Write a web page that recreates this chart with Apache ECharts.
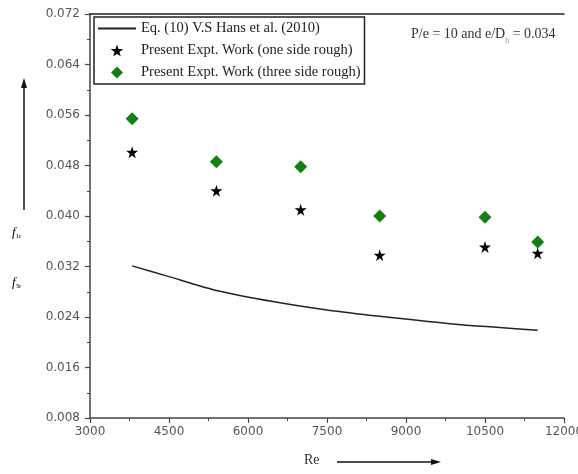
<!DOCTYPE html>
<html>
<head>
<meta charset="utf-8">
<script src="https://cdn.jsdelivr.net/npm/echarts@6/dist/echarts.min.js"></script>
<style>
html, body { margin: 0; padding: 0; background: #fff; }
#chart { width: 578px; height: 474px; }
</style>
</head>
<body>
<div id="chart"></div>
<script>
// Re values of the measured points
var reExpt = [3800, 5400, 7000, 8500, 10500, 11500];
// friction factor, one side rough
var fOneSide = [0.0501, 0.0440, 0.0410, 0.0338, 0.0351, 0.0341];
// friction factor, three side rough
var fThreeSide = [0.0554, 0.0486, 0.0478, 0.0400, 0.0398, 0.0359];
// correlation curve Eq. (10)
var reEq = [3800, 4500, 5400, 6500, 7500, 8500, 10000, 11500];
var fEq = [0.0321, 0.0304, 0.0282, 0.0264, 0.0251, 0.0241, 0.0228, 0.0219];

var xTicks = [3000, 12000, 1500];
var yTicks = [0.008, 0.072, 0.008];

function pairs(xs, ys) {
	var out = [];
	for (var i = 0; i < xs.length; i++) out.push([xs[i], ys[i]]);
	return out;
}

var starPath = 'path://M50,0 L61,35 L98,35 L68,57 L79,91 L50,70 L21,91 L32,57 L2,35 L39,35 Z';
var diamondPath = 'path://M50,0 L100,50 L50,100 L0,50 Z';
var serif = '"Liberation Serif", "Times New Roman", serif';
var sans = '"DejaVu Sans", sans-serif';
var axisCol = '#444';
var green = '#157f15';

var myChart = echarts.init(document.getElementById('chart'));
myChart.setOption({
	animation: false,
	backgroundColor: '#fff',
	grid: { left: 90, right: 14, top: 14, bottom: 56, outerBoundsMode: 'none' },
	title: {
		left: 406, top: 19,
		text: '{a|P/e = 10 and e/D}{s|h}{a| = 0.034}',
		textStyle: {
			fontWeight: 'normal',
			rich: {
				a: { fontFamily: serif, fontSize: 14, color: '#333', fontWeight: 'normal' },
				s: { fontFamily: serif, fontSize: 8, color: '#999', fontWeight: 'normal', padding: [13, 0, 0, 0] }
			}
		}
	},
	legend: {
		orient: 'vertical',
		left: 94, top: 17,
		padding: [4, 4, 4, 3],
		itemGap: 7,
		itemWidth: 38,
		itemHeight: 12,
		symbolKeepAspect: true,
		borderColor: '#222',
		borderWidth: 1.5,
		textStyle: { fontFamily: serif, fontSize: 14.5, color: '#222' },
		data: [
			{ name: 'Eq. (10) V.S Hans et al. (2010)' },
			{ name: 'Present Expt. Work (one side rough)', icon: starPath },
			{ name: 'Present Expt. Work (three side rough)', icon: diamondPath }
		]
	},
	xAxis: [{
		type: 'value',
		min: xTicks[0], max: xTicks[1], interval: xTicks[2],
		splitLine: { show: false },
		axisLine: { lineStyle: { color: axisCol, width: 1.5 } },
		axisTick: { length: 5, lineStyle: { color: axisCol, width: 1.2 } },
		minorTick: { show: true, splitNumber: 2, length: 3, lineStyle: { color: axisCol } },
		axisLabel: {
			fontFamily: sans, fontSize: 12, color: '#555', margin: 8,
			formatter: function (v) { return String(v); }
		}
	}, {
		type: 'value', position: 'top',
		min: xTicks[0], max: xTicks[1],
		splitLine: { show: false },
		axisLine: { show: true, lineStyle: { color: '#222', width: 1.5 } },
		axisTick: { show: false },
		axisLabel: { show: false }
	}],
	yAxis: {
		type: 'value',
		min: yTicks[0], max: yTicks[1], interval: yTicks[2],
		splitLine: { show: false },
		axisLine: { show: true, lineStyle: { color: axisCol, width: 1.5 } },
		axisTick: { show: true, length: 5, lineStyle: { color: axisCol, width: 1.2 } },
		minorTick: { show: true, splitNumber: 2, length: 3, lineStyle: { color: axisCol } },
		axisLabel: {
			fontFamily: sans, fontSize: 12, color: '#555', margin: 10,
			formatter: function (v) { return v.toFixed(3); }
		}
	},
	graphic: [
		// vertical arrow next to y title
		{ type: 'line', shape: { x1: 24, y1: 210, x2: 24, y2: 84 }, style: { stroke: '#111', lineWidth: 1.5 } },
		{ type: 'polygon', shape: { points: [[21, 88], [27, 88], [24, 78]] }, style: { fill: '#111' } },
		{ type: 'text', left: 12, top: 226, style: { text: '{f|f}{s|1r}', rich: {
			f: { fontFamily: serif, fontStyle: 'italic', fontSize: 13, color: '#777' },
			s: { fontFamily: serif, fontSize: 7, color: '#aaa', padding: [8, 0, 0, 0] } } } },
		{ type: 'text', left: 12, top: 276, style: { text: '{f|f}{s|3r}', rich: {
			f: { fontFamily: serif, fontStyle: 'italic', fontSize: 13, color: '#777' },
			s: { fontFamily: serif, fontSize: 7, color: '#aaa', padding: [8, 0, 0, 0] } } } },
		// x title with arrow
		{ type: 'text', left: 304, top: 453, style: { text: 'Re', fontFamily: serif, fontSize: 14, fill: '#333' } },
		{ type: 'line', shape: { x1: 337, y1: 462, x2: 434, y2: 462 }, style: { stroke: '#111', lineWidth: 1.5 } },
		{ type: 'polygon', shape: { points: [[431, 459], [431, 465], [441, 462]] }, style: { fill: '#111' } }
	],
	series: [{
		name: 'Eq. (10) V.S Hans et al. (2010)',
		type: 'line',
		smooth: 0.2,
		symbol: 'none',
		itemStyle: { color: 'rgba(0,0,0,0)', borderWidth: 0 },
		lineStyle: { color: '#222', width: 1.5 },
		data: pairs(reEq, fEq)
	}, {
		name: 'Present Expt. Work (one side rough)',
		type: 'scatter',
		symbol: starPath,
		symbolSize: 12,
		itemStyle: { color: '#000', opacity: 1 },
		data: pairs(reExpt, fOneSide)
	}, {
		name: 'Present Expt. Work (three side rough)',
		type: 'scatter',
		symbol: diamondPath,
		symbolSize: 13,
		itemStyle: { color: green, opacity: 1 },
		data: pairs(reExpt, fThreeSide)
	}]
});
</script>
</body>
</html>
